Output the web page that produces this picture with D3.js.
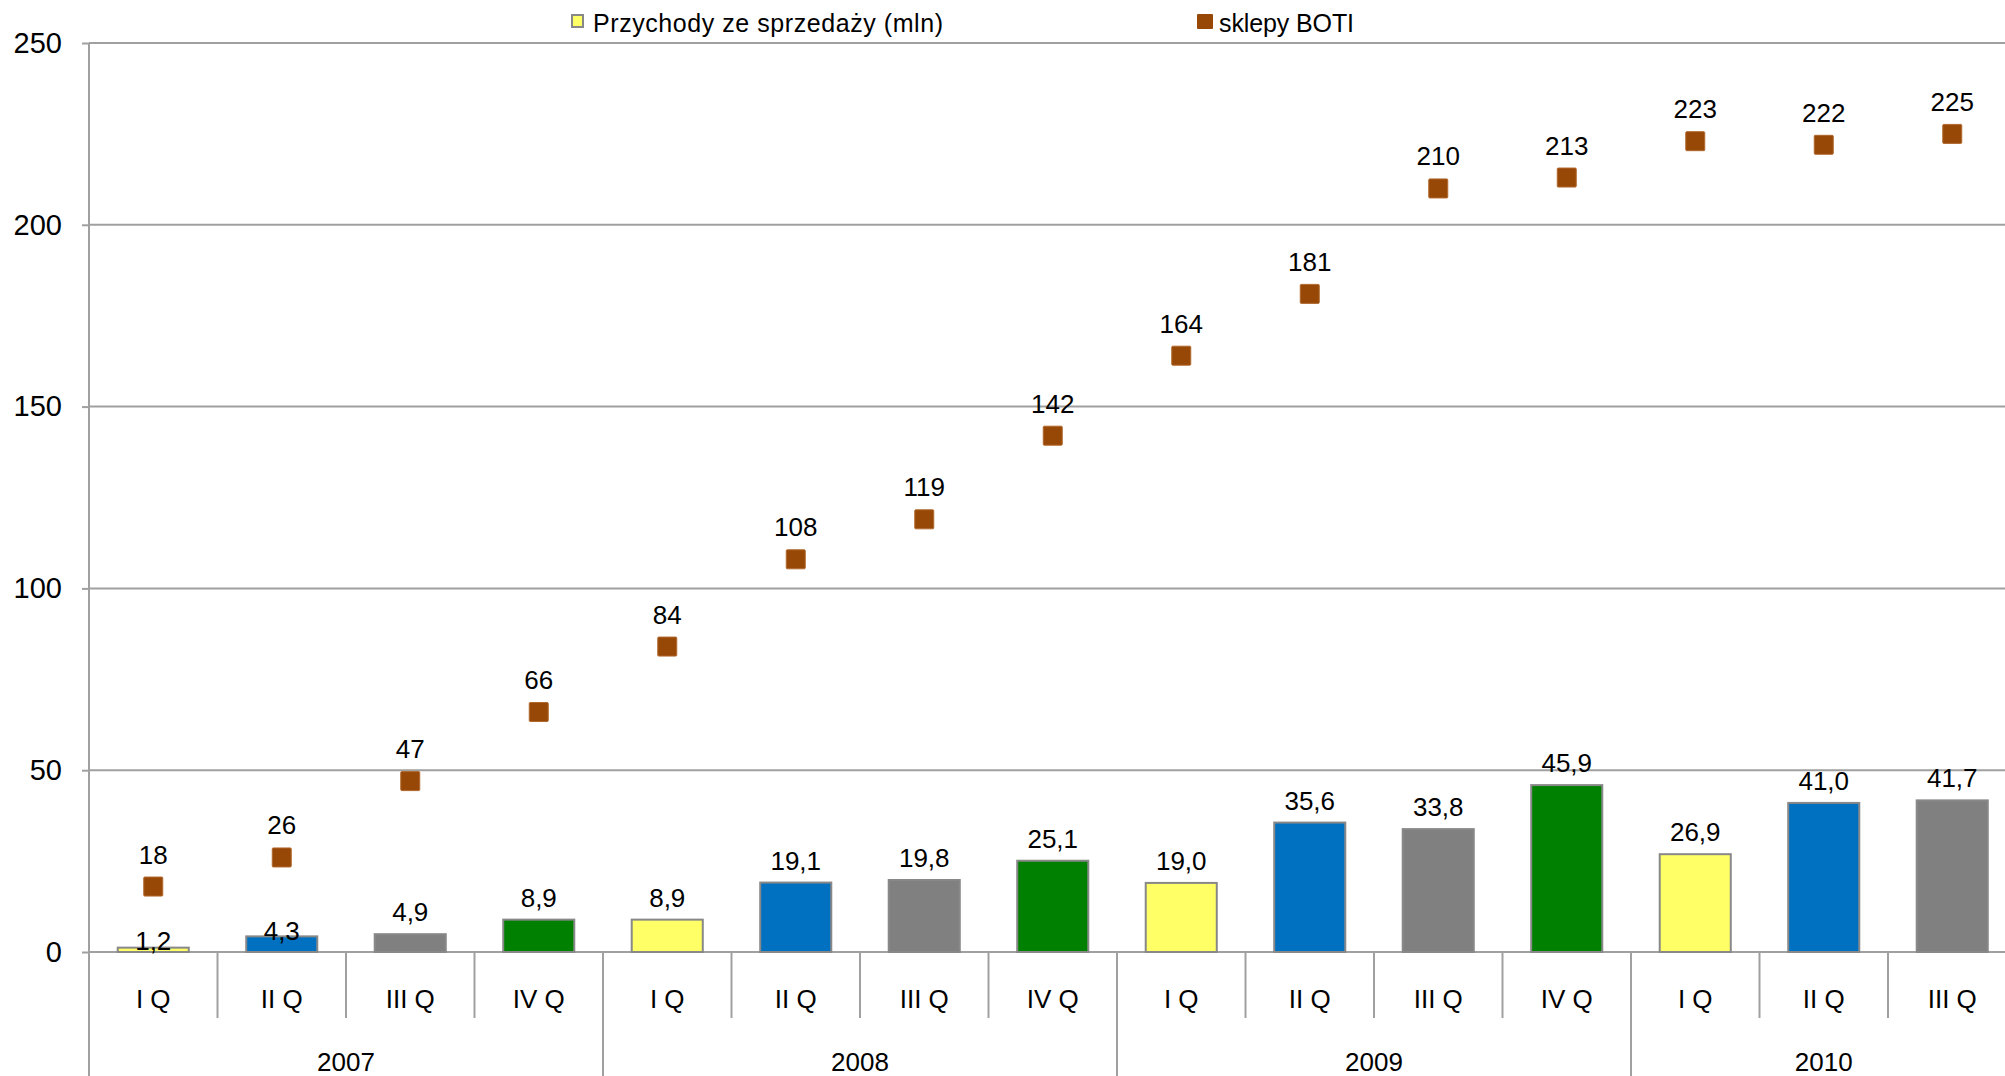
<!DOCTYPE html>
<html>
<head>
<meta charset="utf-8">
<script src="https://cdn.jsdelivr.net/npm/d3@7"></script>
<style>
  html, body { margin: 0; padding: 0; background: #fff; }
  svg { display: block; font-family: "Liberation Sans", Arial, sans-serif; }
</style>
</head>
<body>
<svg id="chart" width="2005" height="1076"></svg>
<script>
// Quarterly revenue (mln) and number of BOTI stores, 2007–2010
const quarters = ["I Q", "II Q", "III Q", "IV Q", "I Q", "II Q", "III Q", "IV Q",
                  "I Q", "II Q", "III Q", "IV Q", "I Q", "II Q", "III Q"];
const years = ["2007", "2008", "2009", "2010"];
const quartersPerYear = [4, 4, 4, 3];
const revenue = [1.2, 4.3, 4.9, 8.9, 8.9, 19.1, 19.8, 25.1, 19.0, 35.6, 33.8, 45.9, 26.9, 41.0, 41.7];
const stores = [18, 26, 47, 66, 84, 108, 119, 142, 164, 181, 210, 213, 223, 222, 225];
const yTicks = [0, 50, 100, 150, 200, 250];
const legendLabels = ["Przychody ze sprzedaży (mln)", "sklepy BOTI"];

const quarterColor = { "I Q": "#FFFF66", "II Q": "#0070C0", "III Q": "#808080", "IV Q": "#008000" };
const markerColor = "#984806";
const lineGray = "#A0A0A0";

const svg = d3.select("#chart");
const idx = d3.range(quarters.length);

const left = 89, step = 128.5;
const cell = d3.scaleBand().domain(idx).range([left, left + step * idx.length]).padding(0);
const band = d3.scaleBand().domain(idx).range(cell.range()).paddingInner(0.447).paddingOuter(0.2235);
const y = d3.scaleLinear().domain([0, 250]).range([952, 43]);

const fmt = v => d3.format(".1f")(v).replace(".", ",");

// horizontal gridlines
svg.append("g").selectAll("line").data(yTicks).join("line")
  .attr("x1", left).attr("x2", 2005)
  .attr("y1", d => y(d)).attr("y2", d => y(d))
  .attr("stroke", lineGray).attr("stroke-width", 2);

// value axis
const yAxis = svg.append("g").attr("transform", `translate(${left},0)`)
  .call(d3.axisLeft(y).tickValues(yTicks).tickSize(7).tickPadding(20).tickFormat(d3.format("d")));
yAxis.select(".domain").remove();
yAxis.selectAll(".tick line").attr("stroke", lineGray).attr("stroke-width", 2);
yAxis.selectAll(".tick text").attr("font-size", 29).attr("fill", "#000")
  .attr("font-family", "Liberation Sans, Arial, sans-serif");
svg.append("line").attr("x1", left).attr("x2", left).attr("y1", y(250)).attr("y2", 1076)
  .attr("stroke", lineGray).attr("stroke-width", 2);

// category separators: short between quarters, long between years
const yearStarts = d3.cumsum([0, ...quartersPerYear.slice(0, -1)]);
svg.append("g").selectAll("line").data(d3.range(1, quarters.length + 1)).join("line")
  .attr("x1", i => left + i * step).attr("x2", i => left + i * step)
  .attr("y1", y(0))
  .attr("y2", i => yearStarts.includes(i) ? 1076 : 1018)
  .attr("stroke", lineGray).attr("stroke-width", 2);

// quarter labels
svg.append("g").selectAll("text").data(idx).join("text")
  .attr("x", i => cell(i) + cell.bandwidth() / 2).attr("y", 1008)
  .attr("text-anchor", "middle").attr("font-size", 26).text(i => quarters[i]);

// year labels
svg.append("g").selectAll("text").data(years).join("text")
  .attr("x", (d, k) => left + (yearStarts[k] + quartersPerYear[k] / 2) * step)
  .attr("y", 1071).attr("text-anchor", "middle").attr("font-size", 26).text(d => d);

// revenue bars
svg.append("g").selectAll("rect").data(idx).join("rect")
  .attr("x", i => band(i)).attr("width", band.bandwidth())
  .attr("y", i => y(revenue[i])).attr("height", i => y(0) - y(revenue[i]))
  .attr("fill", i => quarterColor[quarters[i]])
  .attr("stroke", "#888888").attr("stroke-width", 2);

// revenue labels (the two smallest bars carry their labels lower, over the bar)
const labelDrop = { 0: 15, 1: 17 };
svg.append("g").selectAll("text").data(idx).join("text")
  .attr("x", i => band(i) + band.bandwidth() / 2)
  .attr("y", i => y(revenue[i]) - 13 + (labelDrop[i] || 0))
  .attr("text-anchor", "middle").attr("font-size", 26).text(i => fmt(revenue[i]));

// store count markers
const ms = 19;
svg.append("g").selectAll("rect").data(idx).join("rect")
  .attr("x", i => band(i) + band.bandwidth() / 2 - ms / 2)
  .attr("y", i => y(stores[i]) - ms / 2)
  .attr("width", ms).attr("height", ms).attr("rx", 1)
  .attr("fill", markerColor).attr("stroke", "#B0682E").attr("stroke-width", 1);

svg.append("g").selectAll("text").data(idx).join("text")
  .attr("x", i => band(i) + band.bandwidth() / 2)
  .attr("y", i => y(stores[i]) - 23)
  .attr("text-anchor", "middle").attr("font-size", 26).text(i => stores[i]);

// legend
const legend = svg.append("g");
legend.append("rect").attr("x", 572).attr("y", 15).attr("width", 11).attr("height", 12)
  .attr("fill", "#FFFF66").attr("stroke", "#888888").attr("stroke-width", 2);
legend.append("text").attr("x", 593).attr("y", 32).attr("font-size", 25)
  .attr("textLength", 350).attr("lengthAdjust", "spacing").text(legendLabels[0]);
legend.append("rect").attr("x", 1197).attr("y", 14).attr("width", 16).attr("height", 15)
  .attr("fill", markerColor).attr("rx", 1);
legend.append("text").attr("x", 1219).attr("y", 32).attr("font-size", 25)
  .attr("textLength", 135).attr("lengthAdjust", "spacing").text(legendLabels[1]);
</script>
</body>
</html>
